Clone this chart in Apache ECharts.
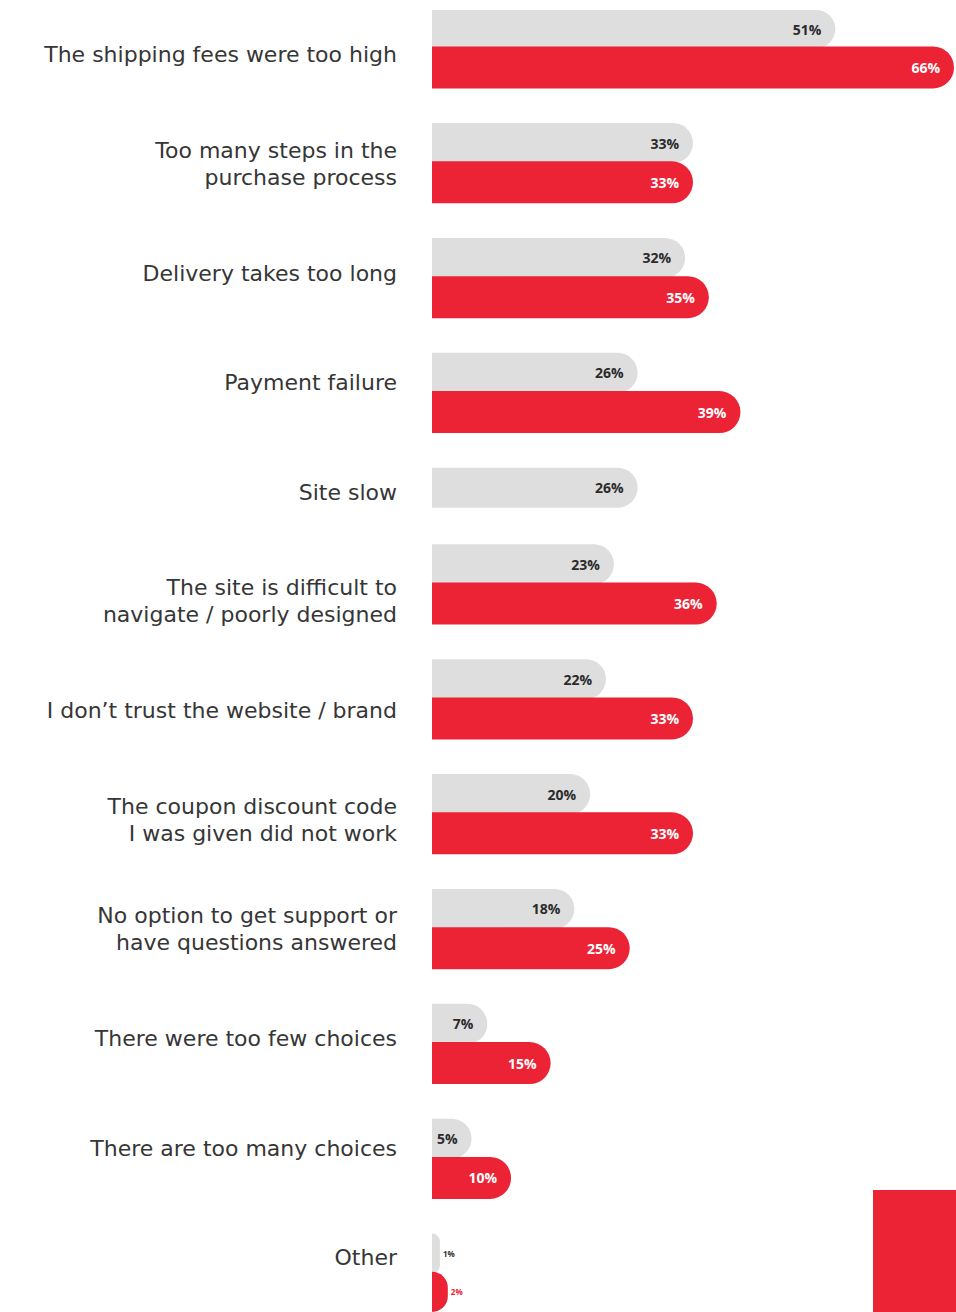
<!DOCTYPE html>
<html>
<head>
<meta charset="utf-8">
<script src="https://cdn.jsdelivr.net/npm/echarts@6/dist/echarts.min.js"></script>
<style>
  html, body { margin: 0; padding: 0; background: #ffffff; }
  #chart { width: 956px; height: 1312px; }
</style>
</head>
<body>
<div id="chart"></div>
<script>
// Reasons for abandoning a purchase (share of respondents, %)
const reasons = [
  'The shipping fees were too high',
  'Too many steps in the\npurchase process',
  'Delivery takes too long',
  'Payment failure',
  'Site slow',
  'The site is difficult to\nnavigate / poorly designed',
  'I don\u2019t trust the website / brand',
  'The coupon discount code\nI was given did not work',
  'No option to get support or\nhave questions answered',
  'There were too few choices',
  'There are too many choices',
  'Other'
];
const greyValues = [51, 33, 32, 26, 26, 23, 22, 20, 18, 7, 5, 1];
const redValues  = [66, 33, 35, 39, null, 36, 33, 33, 25, 15, 10, 2];

const GREY = '#dedede';
const RED = '#ec2235';

// Each reason gets a grey slot, a red slot (if present) and a spacer slot.
const slots = [];
const greySlotData = [];
const redSlotData = [];
function pushSlot(g, r) {
  slots.push(String(slots.length));
  greySlotData.push(g);
  redSlotData.push(r);
}
reasons.forEach((_, i) => {
  pushSlot(greyValues[i], '-');
  if (redValues[i] != null) pushSlot('-', redValues[i]);
  if (i < reasons.length - 1) pushSlot('-', '-');
});

// Bars too short to hold their value get the label just past the end.
function withLabels(arr, smallColor) {
  return arr.map(v => {
    if (v === '-') return v;
    return v < 5
      ? { value: v, label: { position: 'right', distance: 3, fontSize: 8, color: smallColor } }
      : { value: v };
  });
}

const chart = echarts.init(document.getElementById('chart'), null, { renderer: 'svg' });

const valueLabel = (color) => ({
  show: true,
  position: 'insideRight',
  distance: 14,
  formatter: '{c}%',
  color: color,
  fontFamily: 'Open Sans',
  fontWeight: 'bold',
  fontSize: 14
});

chart.setOption({
  animation: false,
  backgroundColor: '#ffffff',
  grid: [
    { left: 432, right: 2, top: 10, height: 1303 },
    { left: 432, right: 2, top: -3, height: 1342 }
  ],
  xAxis: [
    { gridIndex: 0, type: 'value', min: 0, max: 66, show: false },
    { gridIndex: 1, type: 'value', min: 0, max: 66, show: false }
  ],
  yAxis: [
    {
      gridIndex: 0, type: 'category', inverse: true, data: slots,
      axisLine: { show: false }, axisTick: { show: false }, axisLabel: { show: false }
    },
    {
      gridIndex: 1, type: 'category', inverse: true, data: reasons,
      axisLine: { show: false }, axisTick: { show: false },
      axisLabel: {
        margin: 35,
        color: '#363636',
        fontFamily: 'DejaVu Sans',
        fontSize: 22,
        lineHeight: 27,
        align: 'right'
      }
    }
  ],
  series: [
    {
      type: 'bar', xAxisIndex: 0, yAxisIndex: 0,
      data: withLabels(greySlotData, '#333333'),
      barWidth: 40, barGap: '-100%',
      itemStyle: { color: GREY, borderRadius: [0, 20, 20, 0] },
      label: valueLabel('#2b2b2b')
    },
    {
      type: 'bar', xAxisIndex: 0, yAxisIndex: 0,
      data: withLabels(redSlotData, RED),
      barWidth: 42, barGap: '-100%',
      itemStyle: { color: RED, borderRadius: [0, 21, 21, 0] },
      label: valueLabel('#ffffff')
    }
  ],
  graphic: [
    { type: 'rect', right: 0, bottom: 0, shape: { width: 83, height: 122 }, style: { fill: RED } }
  ]
});
</script>
</body>
</html>
